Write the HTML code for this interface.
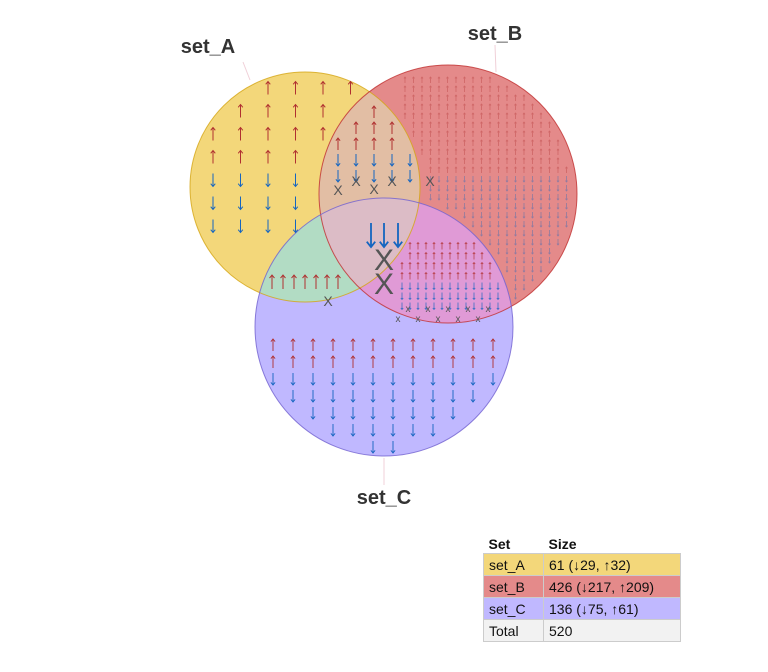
<!DOCTYPE html>
<html><head><meta charset="utf-8"><style>
body{margin:0;background:#fff;width:768px;height:672px;overflow:hidden;font-family:"Liberation Sans",sans-serif}
#tbl{position:absolute;left:483px;top:535px;border-collapse:collapse;font-size:14px;color:#111}
#tbl td,#tbl th{padding:1px 5px;height:19px;text-align:left;border:1px solid #ccc}
#tbl th{border:none;font-weight:bold;height:16px}
</style></head><body>
<svg id="v" width="768" height="672" style="position:absolute;left:0;top:0"></svg>
<table id="tbl">
<tr><th style="width:50px">Set</th><th style="width:127px">Size</th></tr>
<tr style="background:#f3d77a"><td>set_A</td><td>61 (↓29, ↑32)</td></tr>
<tr style="background:#e48a8a"><td>set_B</td><td>426 (↓217, ↑209)</td></tr>
<tr style="background:#c0b8ff"><td>set_C</td><td>136 (↓75, ↑61)</td></tr>
<tr style="background:#f2f2f2"><td>Total</td><td>520</td></tr>
</table>
<script>
const setNames=["set_A","set_B","set_C"];
const setSizes=[61,426,136];
const setDown=[29,217,75];
const setUp=[32,209,61];
const NS="http://www.w3.org/2000/svg";
const svg=document.getElementById('v');
function mk(t,a,p){const e=document.createElementNS(NS,t);for(const k in a)e.setAttribute(k,a[k]);(p||svg).appendChild(e);return e;}
const C=[{x:305,y:187,r:115,f:"#f3d77a",s:"#d4a514"},{x:448,y:194,r:129,f:"#e48a8a",s:"#c03030"},{x:384,y:327,r:129,f:"#c0b8ff",s:"#7060d0"}];
const defs=mk('defs',{});
C.forEach((c,i)=>{const cp=mk('clipPath',{id:'cp'+i},defs);mk('circle',{cx:c.x,cy:c.y,r:c.r},cp);});
const cp01=mk('clipPath',{id:'cp01'},defs);mk('circle',{cx:C[1].x,cy:C[1].y,r:C[1].r,'clip-path':'url(#cp0)'},cp01);
[[243,62,250,80],[495,45,496,72],[384,458,384,485]].forEach((l,i)=>{const e=mk('line',{x1:l[0],y1:l[1],x2:l[2],y2:l[3],stroke:'#f0d0d8','stroke-width':1});

});
C.forEach((c,i)=>{const e=mk('circle',{cx:c.x,cy:c.y,r:c.r,fill:c.f});

});
function ov(i,j,col,clip){const g=mk('g',{'clip-path':'url(#'+clip+')'});mk('circle',{cx:C[j].x,cy:C[j].y,r:C[j].r,fill:col},g);}
ov(0,1,'#e2bea4','cp0');
ov(0,2,'#b2dcc4','cp0');
ov(1,2,'#e09ad6','cp1');
ov(0,2,'#dcbcc6','cp01');
C.forEach(c=>mk('circle',{cx:c.x,cy:c.y,r:c.r,fill:'none',stroke:c.s,'stroke-width':1,'stroke-opacity':0.8}));
function inC(i,x,y){const c=C[i];return (x-c.x)**2+(y-c.y)**2<(c.r-6)**2;}
function outC(i,x,y){const c=C[i];return (x-c.x)**2+(y-c.y)**2>(c.r+5)**2;}
function arrow(x,y,len,up,col,op,w){
 const h=len*0.22,y0=y-len/2,y1=y+len/2;
 const d=up?`M${x},${y1}L${x},${y0}M${x-h*0.8},${y0+h}L${x},${y0}L${x+h*0.8},${y0+h}`:`M${x},${y0}L${x},${y1}M${x-h*0.8},${y1-h}L${x},${y1}L${x+h*0.8},${y1-h}`;
 const p=mk('path',{d:d,stroke:col,fill:'none','stroke-width':w,opacity:op});
 
 }
function glyph(x,y,ch,size,col){const t=mk('text',{x:x,y:y,'font-size':size,fill:col,'text-anchor':'middle','font-family':'Liberation Sans, sans-serif'});t.textContent=ch;

return t;}
// [membership, x0,x1,dx, y0,y1,dy, splitY, arrowLen, opacity, width]
const regions=[
 [[1,0,0],213,352,27.5,88,245,23,162,13,1,1],
 [[0,1,0],405,575,8.5,80,320,9,175,6,0.4,0.8],
 [[0,0,1],273,500,20,345,448,17,368,12,1,0.9],
 [[1,1,0],338,435,18,112,180,16,148,12,1,1],
 [[1,0,1],272,345,11,282,305,21,288,14,1,1],
 [[0,1,1],402,505,8,246,312,10,283,7,0.8,0.8]];
regions.forEach(r=>{const m=r[0];
 for(let x=r[1];x<=r[2];x+=r[3])for(let y=r[4];y<=r[5];y+=r[6]){
  let ok=true;for(let i=0;i<3;i++){if(m[i]&&!inC(i,x,y))ok=false;if(!m[i]&&!outC(i,x,y))ok=false;}
  if(!ok)continue;
  if(y<r[7])arrow(x,y,r[8],true,'#b03030',r[9],r[10]);else arrow(x,y,r[8],false,'#1565c0',r[9],r[10]);
 }});
[[338,195],[356,186],[374,194],[392,186],[430,186],[328,306]].forEach(p=>glyph(p[0],p[1],'X',14,'#555'));
for(let x=398;x<=495;x+=10)glyph(x,(x/10)%2<1?312:322,'x',10,'#555');
[371,384,398].forEach(x=>arrow(x,235,24,false,'#1565c0',1,1.8));
glyph(384,270,'X',30,'#555');glyph(384,294,'X',30,'#555');
[[208,53,'set_A'],[495,40,'set_B'],[384,504,'set_C']].forEach((l,i)=>{const t=mk('text',{x:l[0],y:l[1],'font-size':20,'font-weight':'bold',fill:'#333','text-anchor':'middle','font-family':'Liberation Sans, sans-serif'});t.textContent=l[2];

});
</script>
</body></html>
